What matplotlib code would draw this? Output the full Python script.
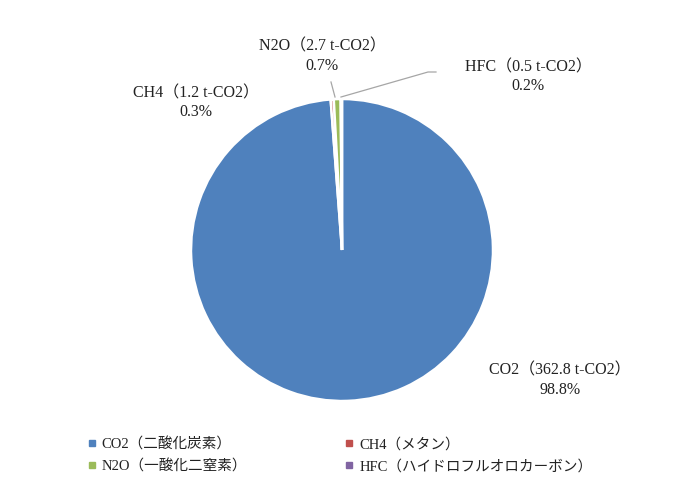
import matplotlib.pyplot as plt
from matplotlib.lines import Line2D

plt.rcParams['font.family'] = ['Liberation Serif', 'Noto Sans CJK JP', 'DejaVu Sans']

# emissions by gas (t-CO2)
gases = ['CO2', 'CH4', 'N2O', 'HFC']
legend_names = ['CO2（二酸化炭素）', 'CH4（メタン）', 'N2O（一酸化二窒素）', 'HFC（ハイドロフルオロカーボン）']
amounts = [362.8, 1.2, 2.7, 0.5]
pct_labels = ['98.8%', '0.3%', '0.7%', '0.2%']
colors = ['#4F81BD', '#C0504D', '#9BBB59', '#8064A2']

fig = plt.figure(figsize=(7, 5), dpi=100)
# pie axes: centre (342, 250) px, radius 151 px
r = 151
ax = fig.add_axes([(342 - r) / 700, (250 - r) / 500, 2 * r / 700, 2 * r / 500])
ax.pie(amounts, colors=colors, startangle=90, counterclock=False,
       wedgeprops=dict(edgecolor='white', linewidth=1.8))
ax.set_xlim(-1, 1)
ax.set_ylim(-1, 1)
ax.set_aspect('equal')
ax.axis('off')


def px(x, y):
    # pixel position -> pie data coordinates
    return ((x - 342) / r, (250 - y) / r)


label_text = [f'{g}（{a} t-CO2）\n{p}' for g, a, p in zip(gases, amounts, pct_labels)]
label_pos = [(560, 380), (196, 103), (322, 56), (528, 77)]
for txt, pos in zip(label_text, label_pos):
    ax.text(*px(*pos), txt, ha='center', va='center', fontsize=11.5,
            color='#222222', linespacing=1.25, clip_on=False)

# leader lines for the thin slices
lc = '#A6A6A6'
ax.plot(*zip(px(331, 82), px(335, 97)), color=lc, lw=0.9, clip_on=False)
ax.plot(*zip(px(341, 97), px(428, 72), px(436, 72)), color=lc, lw=0.9, clip_on=False)

handles = [Line2D([], [], marker='s', ls='none', color=c, markersize=4) for c in colors]
# order legend rows: CO2, CH4 / N2O, HFC
fig.legend([handles[0], handles[2], handles[1], handles[3]],
           [legend_names[0], legend_names[2], legend_names[1], legend_names[3]],
           ncol=2, loc='upper left', bbox_to_anchor=(74 / 700, 1 - 424 / 500),
           frameon=False, fontsize=10.5, handlelength=0.6, handletextpad=0.4,
           columnspacing=6.7, labelspacing=0.55, labelcolor='#222222')

fig.savefig('out.png', dpi=100)
